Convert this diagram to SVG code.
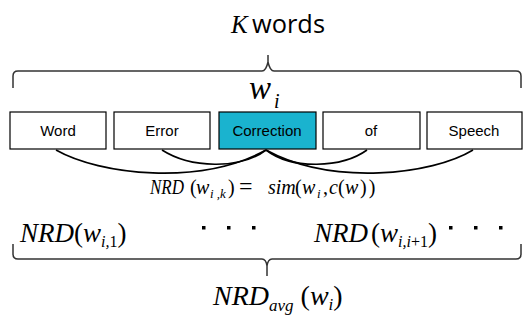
<svg xmlns="http://www.w3.org/2000/svg" width="529" height="320" viewBox="0 0 529 320">
<style>
.box{fill:#fff;stroke:#000;stroke-width:1.2}
.hl{fill:#1ab3cf;stroke:#000;stroke-width:1.2}
.lbl{font-family:"Liberation Sans",Arial,sans-serif;font-size:15px;text-anchor:middle;fill:#000}
.br{fill:none;stroke:#333;stroke-width:1.5}
.cv{fill:none;stroke:#000;stroke-width:1.6}
.m{font-family:"Liberation Serif","Times New Roman",serif;fill:#000}
.i{font-style:italic}
</style>
<rect width="529" height="320" fill="#fff"/>
<g id="title">
<text x="231" y="33" class="m i" font-size="25">K</text>
<text x="252" y="33" font-family="'Open Sans',sans-serif" font-size="25" textLength="73" lengthAdjust="spacingAndGlyphs">words</text>
</g>
<g id="top-brace">
<path class="br" d="M13,88 L13,76 Q13,71 18,71 L262,71 Q266,71 268,62 L268,55 L268,62 Q270,71 274,71 L516,71 Q521,71 521,76 L521,88"/>
</g>
<g id="wi">
<text x="249" y="99" class="m i" font-size="33">w</text>
<text x="274" y="108" class="m i" font-size="20">i</text>
</g>
<g id="connectors">
<path class="cv" d="M56,150 C100,175 200,186 266,150"/>
<path class="cv" d="M162,150 C190,168 240,170 266,150"/>
<path class="cv" d="M266,150 C292,170 342,168 367,150"/>
<path class="cv" d="M266,150 C332,186 432,175 473,150"/>
</g>
<g id="n-word"><rect class="box" x="10" y="112" width="96" height="37"/><text class="lbl" x="58" y="136">Word</text></g>
<g id="n-error"><rect class="box" x="114" y="112" width="96" height="37"/><text class="lbl" x="162" y="136">Error</text></g>
<g id="n-correction"><rect class="hl" x="219" y="112" width="97" height="37"/><text class="lbl" x="267" y="136">Correction</text></g>
<g id="n-of"><rect class="box" x="323" y="112" width="97" height="37"/><text class="lbl" x="371" y="136">of</text></g>
<g id="n-speech"><rect class="box" x="427" y="112" width="95" height="37"/><text class="lbl" x="474" y="136">Speech</text></g>
<g id="formula" class="m" font-size="20">
<text class="i" x="150" y="194" textLength="34" lengthAdjust="spacingAndGlyphs">NRD</text>
<text x="190" y="194">(</text>
<text class="i" x="196" y="194">w</text>
<text class="i" x="210" y="198" font-size="13">i ,k</text>
<text x="228" y="194">)</text>
<text x="239" y="194" font-size="24">=</text>
<text class="i" x="268" y="194">sim</text>
<text x="295" y="194">(</text>
<text class="i" x="302" y="194">w</text>
<text class="i" x="317" y="198" font-size="13">i</text>
<text x="323" y="194">,</text>
<text class="i" x="329" y="194">c</text>
<text x="338" y="194">(</text>
<text class="i" x="345" y="194">w</text>
<text x="360" y="194" letter-spacing="2">))</text>
</g>
<g id="nrd1">
<text x="20" y="242" class="m" font-size="27"><tspan class="i">NRD</tspan>(<tspan class="i">w</tspan><tspan class="i" font-size="16" dy="5">i,</tspan><tspan font-size="16">1</tspan><tspan dy="-5">)</tspan></text>
</g>
<g id="dots1" fill="#000">
<rect x="202" y="226" width="3.5" height="3.5"/><rect x="227" y="226" width="3.5" height="3.5"/><rect x="252" y="226" width="3.5" height="3.5"/>
</g>
<g id="nrd2">
<text x="314" y="242" class="m" font-size="27"><tspan class="i">NRD</tspan><tspan dx="3">(</tspan><tspan class="i">w</tspan><tspan class="i" font-size="16" dy="5">i,i</tspan><tspan font-size="16">+1</tspan><tspan dy="-5">)</tspan></text>
</g>
<g id="dots2" fill="#000">
<rect x="449" y="226" width="3.5" height="3.5"/><rect x="474" y="226" width="3.5" height="3.5"/><rect x="499" y="226" width="3.5" height="3.5"/>
</g>
<g id="bottom-brace">
<path class="br" d="M13,244 L13,254 Q13,259 18,259 L262,259 Q266,259 267,266 L267,276 L267,266 Q268,259 272,259 L516,259 Q521,259 521,254 L521,244"/>
</g>
<g id="nrdavg">
<text x="213" y="305" class="m" font-size="28"><tspan class="i">NRD</tspan><tspan class="i" font-size="17" dy="6">avg</tspan><tspan dy="-6"> (</tspan><tspan class="i">w</tspan><tspan class="i" font-size="17" dy="5">i</tspan><tspan dy="-5">)</tspan></text>
</g>
</svg>
